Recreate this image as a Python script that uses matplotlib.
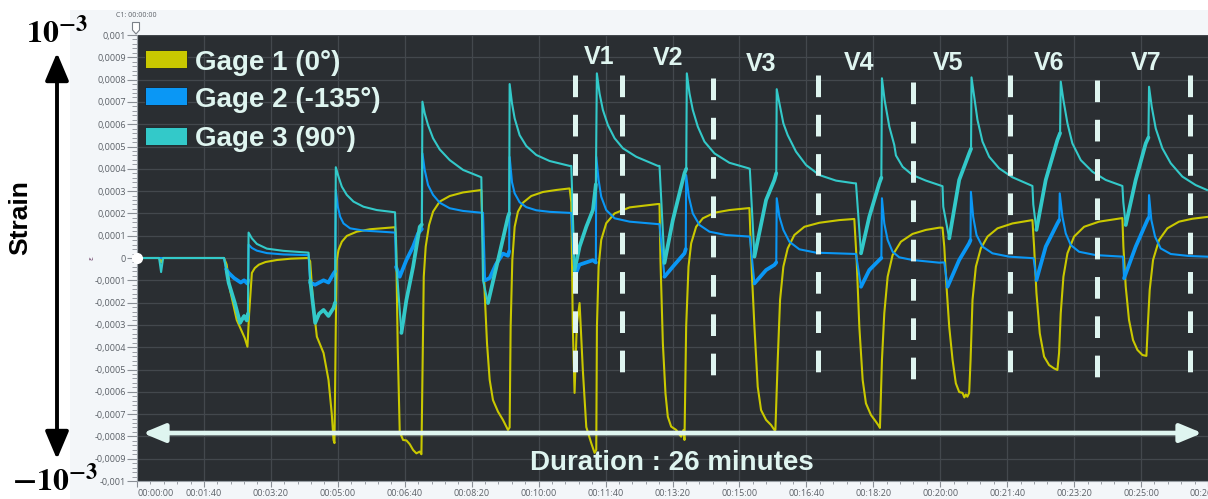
import numpy as np
import matplotlib
matplotlib.use("Agg")
import matplotlib.pyplot as plt
from matplotlib.patches import Rectangle, FancyArrowPatch, Polygon

# ---------------- data (time in s, strain in microstrain) ----------------
g1_time = [0, 33, 36, 39, 130, 134, 139, 149, 161, 165, 167.5, 171.6, 176, 182, 192, 209, 230, 256,
           258.7, 263, 268.7, 278.7, 286.1, 291, 293.6, 295, 297, 298.5, 301, 306, 313.4, 328.3, 348.2, 385.5,
           387, 389.5, 392.5, 397.5, 402.5, 407.5, 412.5, 417.4, 422.4, 424.9, 428.4, 431.3, 436.3, 442.3, 452.2, 467.2, 487.1, 514.4,
           516.9, 519.4, 522.9, 526.9, 531.8, 539.3, 546.7, 554.2, 556.7, 558.2, 560.7, 564.2, 569.1, 576.6, 589, 606.4, 626.4, 646.3,
           648.8, 651, 653.7, 657, 661.2, 666, 671.2, 678.6, 683.6, 686.1, 687.1, 689.6, 693.5, 701, 713.5, 735.9, 778.1,
           780.6, 782, 785.6, 789.5, 793, 798, 805.5, 810, 812.9, 816.4, 817.9, 820.4, 823.9, 827.9, 835.3, 845.3, 862.7, 885, 913.9,
           914.9, 918.8, 922.4, 927.3, 932.3, 939.8, 947.3, 952.2, 953.7, 957.2, 960.7, 965.6, 972.1, 982, 997, 1019.4, 1049.2, 1071.6,
           1075.1, 1079.1, 1084.1, 1089, 1096.5, 1103.9, 1108.9, 1109.9, 1112.9, 1116.4, 1121.4, 1128.8, 1141.2, 1158.6, 1178.6, 1198.5, 1203.4,
           1206, 1209.4, 1213.4, 1218.4, 1223.3, 1228.3, 1233.3, 1236, 1238.2, 1240.5, 1243.2, 1245.3, 1248.2, 1253.2, 1260.6, 1270.6, 1285.5, 1307.9, 1337.7,
           1340.2, 1343.7, 1348.7, 1355.1, 1362.6, 1370, 1375, 1377.5, 1380, 1384, 1390, 1399.9, 1414.9, 1437.3, 1472.1,
           1473.6, 1477.1, 1482, 1488, 1494.5, 1502, 1508, 1510, 1512.9, 1517.9, 1526.9, 1539.3, 1556.7, 1576.6, 1598.5]
g1_strain = [0, 0, -20, 0, 0, -30, -143, -278, -359, -398, -250, -67, -45, -30, -18, -9, -3, 0,
             -15, -200, -353, -426, -547, -700, -816, -830, -300, -9, 36, 73, 99, 118, 129, 138,
             80, -400, -779, -816, -818, -835, -861, -876, -868, -880, -84, 51, 148, 208, 253, 278, 294, 305,
             66, -157, -383, -547, -637, -689, -726, -771, -760, -308, -9, 140, 208, 248, 278, 296, 305, 312,
             250, -300, -605, -300, -202, -500, -758, -830, -874, -860, -308, -39, 81, 156, 200, 227, 242,
             242, -9, -383, -607, -712, -756, -771, -790, -801, -771, -816, -308, -39, 66, 140, 178, 203, 215, 224,
             224, -84, -308, -577, -682, -726, -749, -771, -771, -457, -188, -39, 43, 103, 140, 158, 170, 175,
             -9, -308, -547, -652, -704, -734, -756, -762, -457, -248, -84, 13, 73, 108, 126, 136, 136,
             51, -129, -308, -457, -562, -601, -605, -625, -612, -622, -605, -457, -188, -39, 43, 96, 133, 155, 170,
             51, -157, -338, -442, -480, -495, -502, -426, -248, -84, 21, 96, 140, 163, 179,
             51, -129, -278, -368, -412, -435, -439, -308, -143, -9, 81, 133, 163, 176, 184]

g2_time = [0, 130, 133, 137, 145, 155, 160, 165, 166.2, 166.7, 171.6, 179, 194, 219, 256.3,
           258.7, 266, 278.7, 286, 293.6, 296, 297, 300, 303.5, 308.5, 318.4, 338.3, 385.5,
           387, 392.5, 402.5, 412.5, 419.9, 425.5, 426.4, 429.8, 434.8, 442.3, 452.2, 467.2, 487.1, 514.4,
           516.9, 520, 526.9, 536, 546.7, 554.2, 556, 556.7, 560.2, 564.2, 571.6, 581.6, 596.5, 616.4, 646.3,
           648.8, 653.7, 661, 671, 681, 685.5, 686.1, 689.6, 693.5, 701, 713.5, 735.9, 778.1,
           780.6, 788, 800.5, 817.9, 819.8, 820.4, 824.4, 830.3, 840.3, 855.2, 880, 913.9,
           915.5, 922.4, 939.8, 952.2, 955, 955.7, 959.7, 965.6, 974.6, 989.5, 1014.4, 1071.6,
           1074.1, 1081.6, 1094, 1108.9, 1112, 1112.9, 1116.4, 1121.4, 1128.8, 1138.8, 1158.6, 1198.5, 1203.4,
           1206, 1210.9, 1228.3, 1243.2, 1245.2, 1245.8, 1249.2, 1254.2, 1263.1, 1278, 1302.9, 1337.7,
           1339.5, 1343.7, 1357.6, 1375, 1377.8, 1378.5, 1382.5, 1387.5, 1395, 1407.4, 1432.3, 1472.1,
           1473, 1474.6, 1492, 1509.4, 1511.3, 1511.9, 1515.4, 1520.9, 1529.3, 1544.3, 1571.7, 1598.5]
g2_strain = [0, 0, -50, -67, -90, -110, -100, -115, -100, 60, 45, 33, 22, 16, 13,
             -110, -120, -100, -110, -70, -60, 305, 230, 185, 155, 133, 123, 114,
             -40, -84, -9, 51, 110, 130, 469, 395, 327, 283, 248, 223, 211, 203,
             203, -100, -90, -30, 20, 10, 30, 453, 340, 290, 250, 228, 214, 207, 202,
             202, -84, -30, -20, -10, -20, 454, 350, 275, 215, 178, 163, 152,
             152, -84, -39, 21, 40, 372, 275, 200, 148, 118, 103, 96,
             96, -114, -54, -31, -20, 268, 185, 126, 73, 39, 24, 18,
             18, -129, -54, -9, 0, 268, 155, 81, 28, 3, -9, -21, -20,
             -20, -129, -9, 66, 80, 297, 185, 103, 51, 21, 6, -1,
             -1, -99, 51, 155, 170, 290, 185, 110, 58, 28, 13, 6,
             6, -91, 51, 170, 180, 282, 170, 96, 43, 18, 9, 6]

g3_time = [0, 33, 36, 39, 130, 134, 137, 146, 154, 160, 164, 165.7, 166.7, 171.6, 179.1, 194, 218.9, 256.3,
           258.7, 266.2, 272, 278.7, 286, 293.6, 296, 297, 301, 306, 313.4, 323.4, 338.3, 358.2, 385.5,
           388, 395, 402.5, 412.5, 422.4, 425.5, 426.4, 429.8, 434.8, 442.3, 452.2, 467.2, 487.1, 514.4,
           516.9, 524.3, 533, 541.8, 554.2, 556, 556.7, 560.2, 564.2, 571.6, 581.6, 596.5, 616.4, 646.3,
           648.8, 653.7, 661.2, 671.2, 681.1, 685.5, 687, 691, 696, 703.5, 713.5, 725.9, 745.8, 778.1,
           780.6, 788, 800.5, 810.4, 817.9, 820.5, 821.4, 825.4, 830.3, 837.8, 847.7, 862.7, 885, 913.9,
           915.5, 922.4, 939.8, 952.2, 955, 955.7, 959.7, 965.6, 972.1, 984.5, 999.5, 1019.4, 1044.3, 1071.6,
           1074.1, 1081.6, 1094, 1108.9, 1112, 1112.9, 1116.9, 1123.9, 1131.3, 1133.8, 1143.8, 1158.6, 1178.6, 1198.5, 1203.4,
           1204.5, 1213.4, 1228.3, 1243.2, 1246, 1246.7, 1250.7, 1255.6, 1263.1, 1273.1, 1288, 1307.9, 1337.7,
           1339, 1343.7, 1357.6, 1375, 1379, 1380, 1384, 1390, 1397.4, 1409.9, 1427.3, 1447.2, 1472.1,
           1473.5, 1477.1, 1492, 1507, 1511, 1511.9, 1515.9, 1521.9, 1531.8, 1544.3, 1561.7, 1581.6, 1598.5]
g3_strain = [0, 0, -63, 0, 0, -60, -112, -200, -291, -260, -280, -250, 114, 88, 63, 42, 32, 24,
             -100, -291, -250, -233, -260, -224, -200, 407, 365, 320, 283, 253, 230, 215, 205,
             -50, -336, -188, -39, 140, 150, 701, 649, 596, 537, 487, 439, 395, 362,
             -100, -202, -90, 22, 184, 200, 780, 694, 626, 551, 502, 462, 435, 413,
             413, -54, 51, 140, 215, 330, 828, 738, 664, 596, 537, 492, 454, 413,
             413, -22, 170, 290, 380, 400, 828, 738, 664, 589, 522, 469, 427, 402,
             400, 6, 260, 350, 380, 757, 694, 604, 551, 477, 417, 372, 347, 335,
             335, 21, 185, 335, 360, 806, 708, 589, 507, 460, 409, 372, 347, 327, 322,
             230, 88, 350, 469, 490, 810, 723, 619, 522, 454, 402, 362, 323,
             240, 126, 350, 529, 560, 791, 708, 604, 514, 439, 387, 350, 323,
             250, 148, 350, 514, 540, 768, 679, 581, 492, 425, 365, 327, 305]

# noisy stretches (time windows)
g2_noisy = [(133, 166.2), (258.7, 296), (387, 425.5), (520, 556), (653.7, 685.5), (788, 819.8),
            (922.4, 955), (1081.6, 1112), (1210.9, 1245.2), (1343.7, 1377.8), (1474.6, 1511.3)]
g3_noisy = [(134, 165.7), (258.7, 296), (395, 425.5), (524.3, 556), (653.7, 685.5), (788, 820.5),
            (922.4, 955), (1081.6, 1112), (1213.4, 1246), (1343.7, 1379), (1477.1, 1511)]

series_names = ["Gage 1 (0°)", "Gage 2 (-135°)", "Gage 3 (90°)"]
series_colors = ["#c9c800", "#0a97f5", "#33c9c9"]

valve_labels = ["V1", "V2", "V3", "V4", "V5", "V6", "V7"]
valve_label_t = [690, 794, 933, 1079, 1212, 1363, 1507]
valve_label_y = [901, 897, 870, 874, 874, 874, 874]
vline_t = [655, 724, 860, 1018, 1160, 1304.5, 1434, 1573]
vline_top = [821, 821, 807, 821, 789, 821, 798, 821]

xtick_s = list(range(0, 1700, 100))
xtick_labels = ["00:00:00", "00:01:40", "00:03:20", "00:05:00", "00:06:40", "00:08:20",
                "00:10:00", "00:11:40", "00:13:20", "00:15:00", "00:16:40", "00:18:20",
                "00:20:00", "00:21:40", "00:23:20", "00:25:00", "00:26:40"]
ytick_v = [i * 1e-4 for i in range(-10, 11)]
ytick_labels = ["-0,001", "-0,0009", "-0,0008", "-0,0007", "-0,0006", "-0,0005", "-0,0004",
                "-0,0003", "-0,0002", "-0,0001", "0", "0,0001", "0,0002", "0,0003", "0,0004",
                "0,0005", "0,0006", "0,0007", "0,0008", "0,0009", "0,001"]

# ---------------- figure ----------------
plt.rcParams["mathtext.fontset"] = "stix"
W, H = 1208, 499
fig = plt.figure(figsize=(W / 100, H / 100), dpi=100, facecolor="white")

def fx(px):
    return px / W

def fy(py):
    return 1 - py / H

# light panel behind the chart
fig.patches.append(Rectangle((fx(70), 0), 1 - fx(70), fy(10), transform=fig.transFigure,
                             facecolor="#f3f6f9", edgecolor="none", zorder=-5))

ax = fig.add_axes([fx(137), fy(481), 1 - fx(137), fy(35) - fy(481)])
ax.set_zorder(1)
ax.set_facecolor("#2a2e32")
XMAX = (1208 - 137) * 1.4925
ax.set_xlim(0, XMAX)
ax.set_ylim(-0.001, 0.001)

ax.set_xticks(xtick_s)
ax.set_xticklabels(xtick_labels)
ax.set_xticks(np.arange(0, XMAX, 20), minor=True)
ax.set_yticks(ytick_v)
ax.set_yticklabels(ytick_labels)
ax.set_yticks(np.arange(-0.001, 0.00100001, 0.00002), minor=True)
lab0 = ax.get_xticklabels()[0]
lab0.set_horizontalalignment("left")
ax.tick_params(axis="both", which="both", colors="#8a8f96", labelcolor="#5b6067")
ax.tick_params(axis="y", which="major", length=7, width=0.8, pad=1, labelsize=6.5)
ax.tick_params(axis="y", which="minor", length=3.5, width=0.6)
ax.tick_params(axis="x", which="major", length=4.5, width=0.8, pad=1.5, labelsize=6.5)
ax.tick_params(axis="x", which="minor", length=2.5, width=0.6)
for lab in ax.get_xticklabels() + ax.get_yticklabels():
    lab.set_family("Open Sans")
for s in ["top", "right"]:
    ax.spines[s].set_visible(False)
ax.spines["left"].set_color("#9aa0a6")
ax.spines["bottom"].set_color("#9aa0a6")
ax.grid(True, which="major", color="#43484d", lw=0.9)
ax.set_axisbelow(True)

# data
data = [(g1_time, g1_strain, None), (g2_time, g2_strain, g2_noisy), (g3_time, g3_strain, g3_noisy)]
for idx in [1, 2, 0]:
    t, v, noisy = data[idx]
    t = np.asarray(t, float)
    v = np.asarray(v, float) * 1e-6
    ax.plot(t, v, color=series_colors[idx], lw=1.5, zorder=3 + idx * 0.1,
            solid_joinstyle="round")
    if noisy:
        for a, b in noisy:
            m = (t >= a) & (t <= b)
            ax.plot(t[m], v[m], color=series_colors[idx], lw=2.7, zorder=3 + idx * 0.1,
                    solid_joinstyle="round", solid_capstyle="round")

# start marker
ax.plot([0], [0], "o", color="white", ms=7, clip_on=False, zorder=6)

# dashed valve lines
lw_d = 3.6
for t0, top in zip(vline_t, vline_top):
    ax.plot([t0, t0], [top * 1e-6, (top - 1332) * 1e-6], color="#dff5f0", lw=lw_d,
            linestyle=(0, (15.6 / lw_d, 12.7 / lw_d)), dash_capstyle="butt", zorder=5)

txt_col = "#dff5f0"
for lab, t0, y0 in zip(valve_labels, valve_label_t, valve_label_y):
    ax.text(t0, y0 * 1e-6, lab, color=txt_col, fontsize=18, fontweight="bold",
            family="Liberation Sans", ha="center", va="center", zorder=6)

# duration arrow + text
arr = FancyArrowPatch(((140 - 137) * 1.4925, -785e-6), ((1206 - 137) * 1.4925, -785e-6),
                      arrowstyle="<|-|>,head_length=1.2,head_width=0.5", mutation_scale=11,
                      color=txt_col, lw=3.4, zorder=6, clip_on=False)
ax.add_patch(arr)
ax.text((672 - 137) * 1.4925, -951e-6, "Duration : 26 minutes", color=txt_col, fontsize=20,
        fontweight="bold", family="Liberation Sans", ha="center", va="baseline", zorder=6)

# legend
rows = [(50, 68, 70), (87, 105, 106.7), (127, 145, 145.7)]
for (top, bot, base), name, col in zip(rows, series_names, series_colors):
    fig.patches.append(Rectangle((fx(145), fy(bot)), fx(187) - fx(145), fy(top) - fy(bot),
                                 transform=fig.transFigure, facecolor=col,
                                 edgecolor="#1e2226", lw=0.6, zorder=5))
    fig.text(fx(195), fy(base), name, color=txt_col, fontsize=20, fontweight="bold",
             family="Liberation Sans", ha="left", va="baseline", zorder=6)

# top cursor label
fig.text(fx(136.5), fy(15.5), "C1: 00:00:00", fontsize=5, color="#5b6067",
         family="Open Sans", ha="center", va="center")
fig.patches.append(Polygon([[fx(132.5), fy(22.5)], [fx(139.5), fy(22.5)], [fx(139.5), fy(30)],
                            [fx(136), fy(34)], [fx(132.5), fy(30)]], closed=True,
                           transform=fig.transFigure, facecolor="white",
                           edgecolor="#7a8088", lw=0.8, zorder=5))
fig.text(fx(92), fy(258), "ε", fontsize=5, color="#6a3d66", rotation=90,
         ha="center", va="center")

# left annotations
fig.text(fx(57), fy(33), r"$\mathbf{10}^{\mathbf{-3}}$", fontsize=23, color="black",
         ha="center", va="center")
fig.text(fx(55), fy(481), r"$\mathbf{-10}^{\mathbf{-3}}$", fontsize=23, color="black",
         ha="center", va="center")
fig.text(fx(20), fy(218), "Strain", fontsize=19, fontweight="bold", color="black",
         family="Liberation Sans", rotation=90, ha="center", va="center")
varr = FancyArrowPatch((fx(57), fy(462)), (fx(57), fy(50)), transform=fig.transFigure,
                       arrowstyle="<|-|>,head_length=1.3,head_width=0.55", mutation_scale=13,
                       color="black", lw=2.8)
fig.patches.append(varr)

fig.savefig("out.png", dpi=100, facecolor="white")
